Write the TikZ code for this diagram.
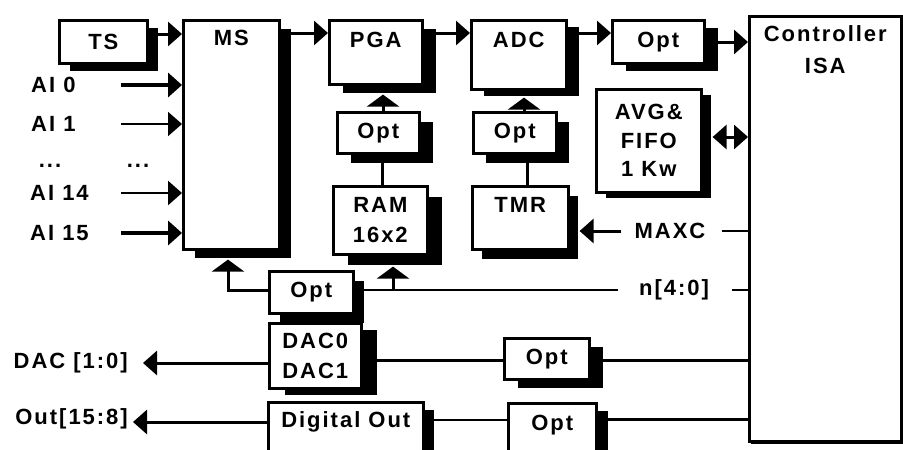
\documentclass[tikz,border=0pt]{standalone}
\usepackage{fontspec}
\newfontfamily\df{Liberation Sans}[LetterSpace=9]
\usetikzlibrary{arrows.meta,shadows,calc}
\tikzset{
  txt/.style={font=\df\bfseries\fontsize{22}{30}\selectfont, inner sep=0pt, align=center},
  box/.style={draw, line width=2.6pt, fill=white, inner sep=0pt, anchor=north west, txt},
  sh/.style 2 args={drop shadow={shadow xshift=#1pt, shadow yshift=-#2pt, fill=black, opacity=1}},
  arr/.style={line width=3pt, -{Triangle[length=14pt,width=24pt]}},
  uparr/.style={line width=3pt, -{Triangle[length=12pt,width=32pt]}},
  dblarr/.style={line width=3pt, {Triangle[length=14pt,width=24pt]}-{Triangle[length=14pt,width=24pt]}},
  ln/.style={line width=3pt},
  thinln/.style={line width=1.6pt},
}
\begin{document}
\begin{tikzpicture}[x=1pt,y=-1pt]
\useasboundingbox (0,0) rectangle (903,450);
\clip (0,0) rectangle (903,450);
% boxes
\node[box, sh={11}{8}, minimum width=88pt, minimum height=43pt] (ts) at (58,19) {TS};
\node[box, sh={12}{9}, minimum width=96pt, minimum height=229pt,
      label={[txt,anchor=north,yshift=-11pt]north:MS}] (ms) at (182,19) {};
\node[box, sh={14}{9}, minimum width=93pt, minimum height=64pt,
      label={[txt,anchor=north,yshift=-13pt]north:PGA}] (pga) at (328,19) {};
\node[box, sh={13}{7}, minimum width=95pt, minimum height=69pt,
      label={[txt,anchor=north,yshift=-13pt]north:ADC}] (adc) at (470,19) {};
\node[box, sh={14}{8}, minimum width=92pt, minimum height=43pt] (opt1) at (611,19) {Opt};
\node[box, sh={2}{3}, minimum width=152pt, minimum height=425pt,
      label={[txt,anchor=north,yshift=-10pt,font=\df\bfseries\fontsize{22}{32}\selectfont]north:{Controller\\ISA}}] (ctrl) at (748,15) {};
\node[box, sh={10}{6}, minimum width=105pt, minimum height=103pt,
      font=\df\bfseries\fontsize{22}{28.5}\selectfont] (avg) at (595,88) {AVG\&\\FIFO\\1 Kw};
\node[box, sh={14}{10}, minimum width=82pt, minimum height=41pt] (opt2) at (336,111) {Opt};
\node[box, sh={15}{11}, minimum width=94pt, minimum height=68pt] (ram) at (332,185) {RAM\\16x2};
\node[box, sh={13}{10}, minimum width=83pt, minimum height=41pt] (opt3) at (472,111) {Opt};
\node[box, sh={10}{10}, minimum width=96pt, minimum height=63pt,
      label={[txt,anchor=north,yshift=-12pt]north:TMR}] (tmr) at (471,185) {};
\node[box, sh={11}{10}, minimum width=84pt, minimum height=42pt] (opt4) at (268,270) {Opt};
\node[box, sh={16}{7}, minimum width=92pt, minimum height=65pt] (dac) at (268,322) {DAC0\\DAC1};
\node[box, sh={11}{8}, minimum width=155pt, minimum height=60pt,
      label={[txt,yshift=10pt]center:{Digital Out}}] (dig) at (267,401) {};
\node[box, sh={14}{9}, minimum width=85pt, minimum height=41pt] (opt5) at (503,337) {Opt};
\node[box, sh={12}{8}, minimum width=88pt, minimum height=60pt,
      label={[txt,yshift=8pt]center:{Opt}}] (opt6) at (507,402) {};
% input labels
\node[txt, anchor=west] (l0) at (31,85) {AI 0};
\node[txt, anchor=west] (l1) at (31,124) {AI 1};
\node[txt] (d1) at (50,166) {...};
\node[txt] (d2) at (138,166) {...};
\node[txt, anchor=west] (l14) at (30,193) {AI 14};
\node[txt, anchor=west] (l15) at (30,233) {AI 15};
\coordinate (i0) at (121,85);
\coordinate (i1) at (121,124);
\coordinate (i14) at (121,193);
\coordinate (i15) at (121,233);
\draw[arr, line width=4pt] (i0) -- (ms.west |- i0);
\draw[arr, line width=2pt] (i1) -- (ms.west |- i1);
\draw[arr, line width=2.5pt] (i14) -- (ms.west |- i14);
\draw[arr, line width=4pt] (i15) -- (ms.west |- i15);
% top chain
\draw[arr] (ts.east |- 0,34) -- (ms.west |- 0,34);
\draw[arr] (ms.east |- 0,33) -- (pga.west |- 0,33);
\draw[arr] (pga.east |- 0,33) -- (adc.west |- 0,33);
\draw[arr] (adc.east |- 0,33) -- (opt1.west |- 0,33);
\draw[arr] (opt1.east |- 0,42) -- (ctrl.west |- 0,42);
\draw[dblarr] ($(avg.east |- 0,137)+(10,0)$) -- (ctrl.west |- 0,137);
% opt to pga / adc
\draw[uparr] (opt2.north -| 383,0) -- ($(pga.south -| 383,0)+(0,9)$);
\draw[ln] (opt2.south -| 382,0) -- (ram.north -| 382,0);
\draw[uparr] (opt3.north -| 524,0) -- ($(adc.south -| 524,0)+(0,7)$);
\draw[ln] (opt3.south -| 527,0) -- (tmr.north -| 527,0);
% MAXC
\node[txt] (maxc) at (670,231) {MAXC};
\draw[arr, shorten <=13pt] (maxc.west) -- ($(tmr.east |- maxc.west)+(10,0)$);
\draw[thinln, shorten <=16pt] (maxc.east) -- (ctrl.west |- maxc.east);
% n[4:0]
\node[txt] (nn) at (674,290) {n[4:0]};
\draw[thinln, shorten >=21pt] (opt4.east |- nn) -- (nn.west);
\draw[thinln, shorten <=23pt] (nn.east) -- (ctrl.west |- nn.east);
\draw[uparr] (opt4.west |- 0,290) -| ($(ms.south -| 228,0)+(0,9)$);
\coordinate (j) at (393,290);
\draw[uparr] (j) -- ($(ram.south -| j)+(0,11)$);
% DAC
\node[txt, anchor=east] (dacl) at (128,363) {DAC [1:0]};
\draw[arr] (dac.west |- 0,363) -- ($(dacl.east)+(15,0)$);
\draw[ln] (dac.east |- 0,360) -- (opt5.west |- 0,360);
\draw[ln] (opt5.east |- 0,360) -- (ctrl.west |- 0,360);
% digital out
\node[txt, anchor=east] (outl) at (128,419) {Out[15:8]};
\draw[arr] (dig.west |- 0,422) -- ($(outl.east |- 0,422)+(5,0)$);
\draw[thinln] (dig.east |- 0,420) -- (opt6.west |- 0,420);
\draw[ln] (opt6.east |- 0,419) -- (ctrl.west |- 0,419);
\end{tikzpicture}
\end{document}
